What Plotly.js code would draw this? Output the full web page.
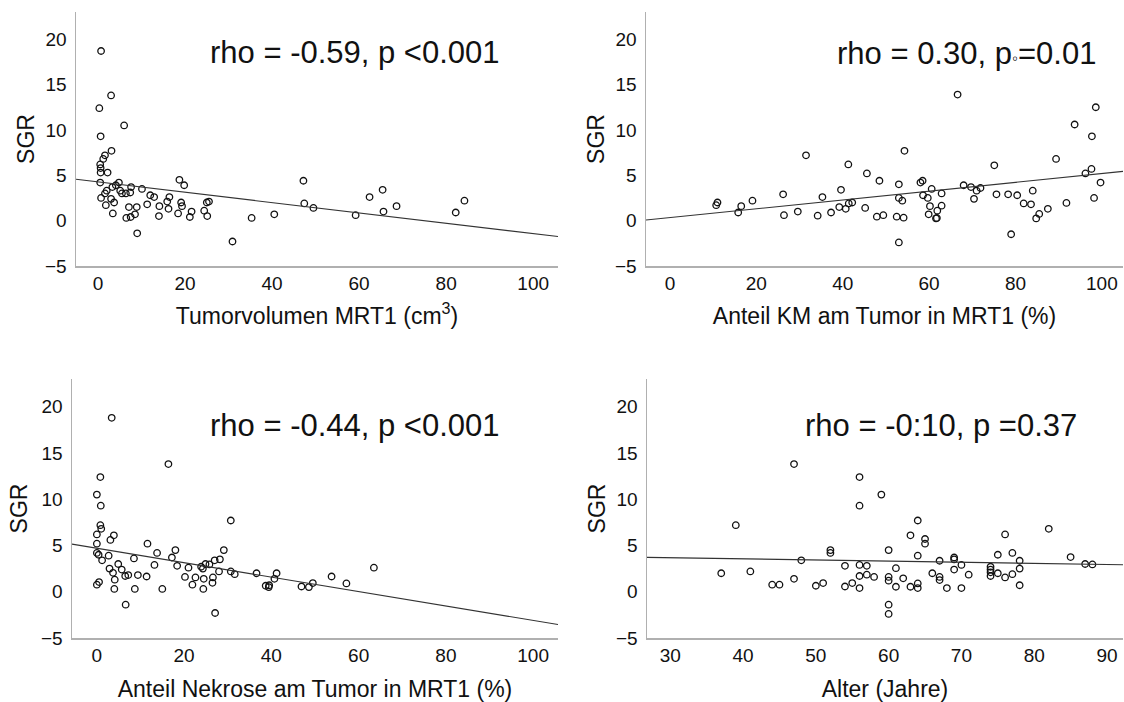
<!DOCTYPE html>
<html>
<head>
<meta charset="utf-8">
<script src="https://cdn.plot.ly/plotly-3.0.1.min.js"></script>
<style>html,body{margin:0;padding:0;background:#fff;}#chart{width:1124px;height:702px;}</style>
</head>
<body>
<div id="chart"></div>
<script>
// ---- Panel 1: Tumorvolumen MRT1 (cm3) vs SGR
const volX = [6.0,0.6,3.1,1.6,1.2,0.5,0.6,0.6,2.2,0.5,18.7,19.8,4.8,4.1,3.3,2.0,1.6,0.7,1.8,3.0,3.7,3.4,5.1,5.5,6.4,7.4,7.6,10.1,12.0,12.9,16.4,15.9,11.3,14.1,16.2,7.1,8.9,8.5,7.5,6.5,14.0,19.1,19.3,18.4,21.5,21.1,25.0,25.5,24.4,25.1,9.0,47.2,47.4,49.5,40.5,59.2,62.4,65.4,65.6,68.6,82.2,84.2,35.3,30.9,0.7,3.0,0.3];
const volSGR = [10.5,9.3,7.7,7.2,6.8,6.2,5.8,5.3,5.3,4.2,4.5,3.9,4.2,3.9,3.7,3.3,3.0,2.5,1.7,2.4,2.0,0.8,3.3,3.0,3.0,3.1,3.7,3.5,2.8,2.6,2.6,2.1,1.8,1.6,1.3,1.5,1.5,0.7,0.4,0.3,0.5,2.0,1.6,0.8,1.0,0.4,2.0,2.1,1.1,0.5,-1.4,4.4,1.9,1.4,0.7,0.6,2.6,3.4,1.0,1.6,0.9,2.2,0.3,-2.3,18.7,13.8,12.4];

// ---- Panel 2: Anteil KM am Tumor in MRT1 (%) vs SGR
const kmX = [10.7,11.0,15.8,16.5,19.1,26.2,26.4,29.6,31.5,34.2,35.3,37.3,39.2,39.6,40.7,41.4,42.2,41.3,45.2,45.6,47.9,49.4,48.5,52.5,54.1,53.0,53.0,53.8,53.0,54.3,58.0,58.5,58.6,59.7,60.6,60.2,59.9,61.9,61.6,61.8,62.9,62.9,68.0,69.7,71.0,71.9,70.4,75.1,75.6,78.3,80.4,79.0,81.9,83.6,84.0,84.8,85.5,87.5,89.4,91.8,96.2,97.6,99.7,98.2,66.6,98.6,93.7,97.7];
const kmSGR = [1.7,2.0,0.9,1.6,2.2,2.9,0.6,1.0,7.2,0.55,2.6,0.9,1.5,3.4,1.3,1.9,2.0,6.2,1.4,5.2,0.44,0.6,4.4,0.44,0.33,4.0,2.5,2.2,-2.4,7.7,4.2,4.4,2.8,2.5,3.5,1.6,0.7,1.1,0.25,0.3,3.0,1.65,3.9,3.7,3.3,3.6,2.4,6.1,2.9,2.9,2.8,-1.5,1.9,1.8,3.3,0.25,0.74,1.3,6.8,1.95,5.2,5.7,4.2,2.5,13.9,12.5,10.6,9.3];

// ---- Panel 3: Anteil Nekrose am Tumor in MRT1 (%) vs SGR
const nekX = [0.9,0.8,1.0,0.0,3.9,3.1,0.0,0.0,0.4,1.2,2.7,2.9,3.7,4.1,4.0,0.0,0.5,4.9,5.7,6.5,7.2,6.6,8.5,8.7,9.4,11.4,11.6,13.2,13.8,15.0,17.2,18.0,18.4,20.2,21.0,21.9,22.6,23.9,24.3,24.9,25.8,24.5,24.4,27.0,28.2,29.1,26.6,26.5,28.0,30.7,30.7,31.6,27.1,36.6,38.7,39.4,39.5,40.7,41.2,46.9,48.6,49.5,53.8,57.2,63.5,3.4,16.4,0.8,0.0];
const nekSGR = [9.3,7.2,6.8,6.2,6.1,5.6,5.2,4.2,4.0,3.4,3.9,2.5,2.05,1.3,0.3,0.76,1.05,3.0,2.4,1.7,1.8,-1.4,3.6,0.3,1.8,1.65,5.2,2.9,4.2,0.3,3.7,4.5,2.8,1.6,2.6,0.76,1.55,2.7,2.5,3.0,2.95,1.4,0.3,3.4,3.5,4.5,1.55,0.97,2.2,7.7,2.2,1.9,-2.3,2.0,0.65,0.5,0.7,1.4,2.0,0.57,0.5,0.94,1.65,0.9,2.6,18.8,13.8,12.4,10.5];

// ---- Panel 4: Alter (Jahre) vs SGR
const ageX = [37,39,41,44,45,47,48,50,51,52,52,54,54,55,56,56,56,56,57,57,58,59,60,60,60,61,61,62,63,63,64,64,64,64,65,65,66,67,67,67,68,69,69,69,70,70,71,74,74,74,74,75,75,76,76,77,77,78,78,78,82,85,87,88,56,60,60,47];
const ageSGR = [2.0,7.2,2.2,0.76,0.76,1.4,3.4,0.65,0.94,4.5,4.2,2.8,0.57,0.94,9.3,2.9,1.7,0.4,2.8,1.85,1.6,10.5,4.5,1.6,1.2,2.55,0.54,1.45,6.1,0.54,7.7,3.9,0.9,0.4,5.7,5.2,2.0,3.35,1.6,1.26,0.4,3.7,3.5,2.4,2.9,0.4,1.85,2.7,2.4,2.1,1.7,4.0,2.0,6.2,1.55,4.2,1.9,3.35,2.5,0.7,6.8,3.75,3.0,2.95,12.4,-1.4,-2.4,13.8];

// fit lines
const fitIntercept = [4.27, 0.34, 4.70, 4.05];
const fitSlope = [-0.057, 0.0485, -0.078, -0.0123];

// texts
const rhoTexts = [
  'rho = -0.59, p <0.001',
  'rho = 0.30, p<span style="font-size:17px">\u25E6</span>=0.01',
  'rho = -0.44, p <0.001',
  'rho = -0:10, p =0.37'
];
const xTitles = ['Tumorvolumen MRT1 (cm<sup>3</sup>)', 'Anteil KM am Tumor in MRT1 (%)', 'Anteil Nekrose am Tumor in MRT1 (%)', 'Alter (Jahre)'];
const yTitle = 'SGR';
const xTicks = [[0,20,40,60,80,100],[0,20,40,60,80,100],[0,20,40,60,80,100],[30,40,50,60,70,80,90]];
const yTicks = [-5,0,5,10,15,20];

// layout geometry (pixels of the 1124x702 page)
const W = 1124, H = 702;
const boxes = [
  {x0:76, x1:558, y0:12, y1:266, xr:[-5.06,105.7], xs:14, ys:4},
  {x0:646, x1:1123, y0:12, y1:266, xr:[-5.55,104.9], xs:14, ys:4},
  {x0:72, x1:558, y0:379, y1:638, xr:[-5.7,105.7], xs:20, ys:7},
  {x0:647, x1:1123, y0:379, y1:638, xr:[26.8,92.2], xs:20, ys:4}
];
const rhoPos = [[208,52],[835,53],[208,425],[803,425]];

const xs = [volX, kmX, nekX, ageX];
const ys = [volSGR, kmSGR, nekSGR, ageSGR];
const FONT = '"Liberation Sans", Arial, Helvetica, sans-serif';

const traces = [];
const layout = {
  width: W, height: H,
  margin: {l:0, r:0, t:0, b:0},
  paper_bgcolor: '#fff', plot_bgcolor: '#fff',
  showlegend: false,
  font: {family: FONT, color: '#111', size: 19},
  annotations: []
};

for (let i = 0; i < 4; i++) {
  const n = i === 0 ? '' : String(i + 1);
  const b = boxes[i];
  traces.push({
    type: 'scatter', mode: 'markers',
    x: xs[i], y: ys[i],
    xaxis: 'x' + n, yaxis: 'y' + n,
    marker: {symbol: 'circle-open', size: 6.5, color: '#111', line: {width: 1.3, color: '#111'}},
    hoverinfo: 'x+y'
  });
  const lx = [b.xr[0], b.xr[1]];
  traces.push({
    type: 'scatter', mode: 'lines',
    x: lx, y: lx.map(v => fitIntercept[i] + fitSlope[i] * v),
    xaxis: 'x' + n, yaxis: 'y' + n,
    line: {color: '#333', width: 1.1},
    hoverinfo: 'skip'
  });
  layout['xaxis' + n] = {
    domain: [b.x0 / W, b.x1 / W],
    anchor: 'y' + n,
    range: b.xr,
    tickmode: 'array', tickvals: xTicks[i],
    ticks: '', ticklabelstandoff: 0,
    showgrid: false, zeroline: false,
    showline: true, linecolor: '#b0b0b0', linewidth: 1.5,
    tickfont: {size: 19, color: '#111', family: FONT},
    title: {text: xTitles[i], font: {size: 23, color: '#111', family: FONT}, standoff: b.xs}
  };
  layout['yaxis' + n] = {
    domain: [1 - b.y1 / H, 1 - b.y0 / H],
    anchor: 'x' + n,
    range: [-5, 23],
    tickmode: 'array', tickvals: yTicks,
    ticks: '', ticklabelstandoff: 4,
    showgrid: false, zeroline: false,
    showline: true, linecolor: '#b0b0b0', linewidth: 1.5,
    tickfont: {size: 19, color: '#111', family: FONT},
    title: {text: yTitle, font: {size: 23, color: '#111', family: FONT}, standoff: b.ys}
  };
  layout.annotations.push({
    xref: 'paper', yref: 'paper',
    x: rhoPos[i][0] / W, y: 1 - rhoPos[i][1] / H,
    xanchor: 'left', yanchor: 'middle',
    text: rhoTexts[i], showarrow: false,
    font: {size: 31, color: '#111', family: FONT}
  });
}

Plotly.newPlot('chart', traces, layout, {displayModeBar: false, staticPlot: true});
</script>
</body>
</html>
